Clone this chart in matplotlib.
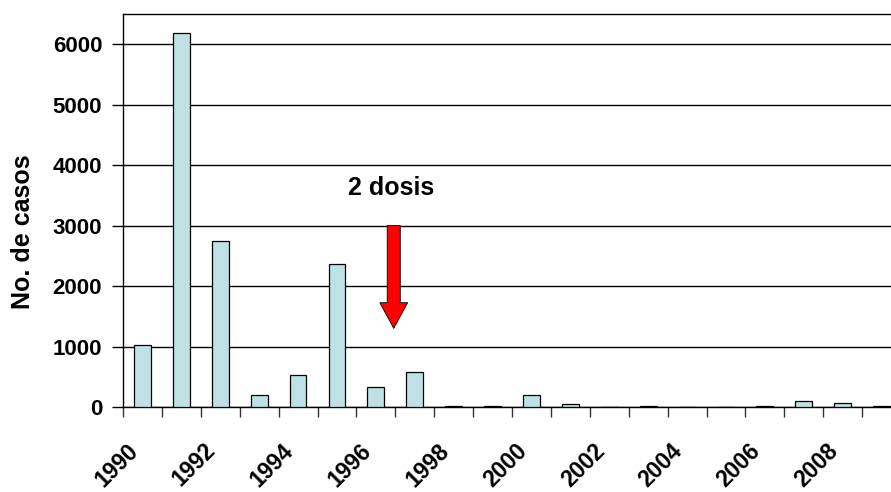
import matplotlib
matplotlib.use("Agg")
import matplotlib.pyplot as plt
import numpy as np

plt.rcParams['font.family'] = ['Liberation Sans', 'DejaVu Sans']

# casos por año
years = list(range(1990, 2010))
cases = [1020, 6190, 2740, 205, 525, 2360, 330, 580, 15, 15,
         205, 45, 0, 15, 0, 0, 15, 105, 60, 20]
label_years = [y for y in years if y % 2 == 0]
yticks = [0, 1000, 2000, 3000, 4000, 5000, 6000]

# flecha "2 dosis"
arrow_x = 6.46
arrow_top = 3000
arrow_tip = 1300
note_text = "2 dosis"
note_y = 3620


def main():
    fig = plt.figure(figsize=(8.91, 4.92), dpi=100)
    ax = fig.add_axes([123 / 891, 1 - 407 / 492, 778 / 891, 393 / 492])

    x = np.arange(len(years))
    ax.bar(x, cases, width=0.43, color="#BFE1E3", edgecolor="black",
           linewidth=0.9, zorder=3)

    ax.set_xlim(-0.5, len(years) - 0.5)
    ax.set_ylim(0, 6500)

    # grid lines
    ax.set_yticks(yticks)
    ax.yaxis.grid(True, color="black", linewidth=1.0, zorder=0)
    ax.set_axisbelow(True)

    ax.spines['right'].set_visible(False)
    for s in ['left', 'bottom', 'top']:
        ax.spines[s].set_color("black")
        ax.spines[s].set_linewidth(1.0)

    # categorias
    ax.set_xticks([years.index(y) for y in label_years])
    ax.set_xticklabels([str(y) for y in label_years], rotation=45,
                       ha="right", fontsize=16.5, fontweight="bold")
    ax.set_xticks(np.arange(-0.5, len(years)), minor=True)
    ax.tick_params(axis="x", which="major", length=0, pad=23)
    ax.tick_params(axis="x", which="minor", length=7, width=1, color="#333333")
    ax.tick_params(axis="y", length=8, width=1, pad=7, labelsize=16)
    for lb in ax.get_yticklabels():
        lb.set_fontweight("bold")

    ax.set_ylabel("No. de casos", fontsize=18, fontweight="bold")
    ax.yaxis.set_label_coords(-0.113, 0.445)

    ax.annotate("", xy=(arrow_x, arrow_tip), xytext=(arrow_x, arrow_top),
                arrowprops=dict(arrowstyle="simple,head_width=20,head_length=18.5,tail_width=9.4",
                                mutation_scale=1, fc="#FF0000", ec="black",
                                lw=0.6, shrinkA=0, shrinkB=0), zorder=5)
    ax.text(arrow_x - 0.06, note_y, note_text, ha="center", va="center",
            fontsize=18, fontweight="bold")

    fig.savefig("out.png", dpi=100)


if __name__ == "__main__": main()
